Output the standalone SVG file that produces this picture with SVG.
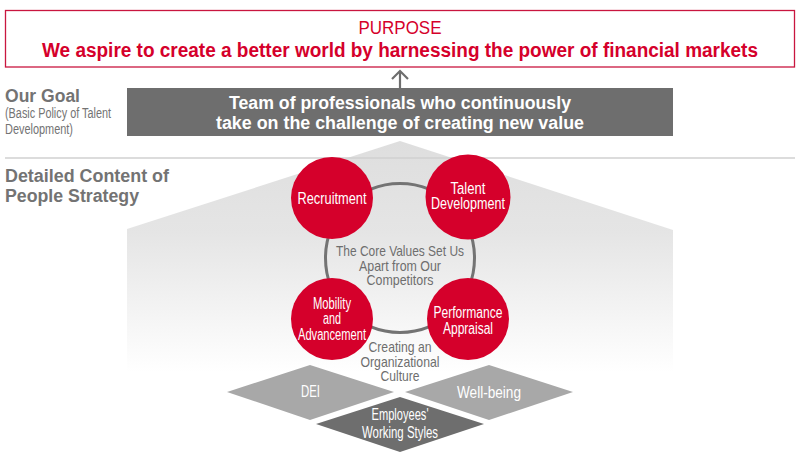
<svg xmlns="http://www.w3.org/2000/svg" width="800" height="455" viewBox="0 0 800 455">
<style>
text{font-family:"Liberation Sans",Arial,sans-serif;text-anchor:middle}
.c{fill:#d5002b}
.w{fill:#fff;font-size:16px}
.g{fill:#6e6e6e;font-size:15px}
.h{fill:#737373;font-size:18px;font-weight:bold;text-anchor:start}
.s{fill:#737373;font-size:14px;text-anchor:start}
.b{fill:#fff;font-size:18px;font-weight:bold}
</style>
<defs><linearGradient id="fade" x1="0" y1="141" x2="0" y2="372" gradientUnits="userSpaceOnUse"><stop offset="0" stop-color="#dedede"/><stop offset="0.4" stop-color="#e5e5e5"/><stop offset="1" stop-color="#fff"/></linearGradient></defs>
<rect width="800" height="455" fill="#fff"/>
<g id="background-shape"><polygon points="400,141 673,230 673,380 127,380 127,229" fill="url(#fade)"/></g>
<line x1="5" y1="158" x2="795" y2="158" stroke="#d0d0d0" stroke-width="1.3"/>
<g id="purpose">
<rect x="5.500" y="10.500" width="789" height="56.500" fill="#fff" stroke="#c9163f" stroke-width="1.3"/>
<text x="400" y="34" font-size="18" fill="#d5002b" textLength="83" lengthAdjust="spacingAndGlyphs">PURPOSE</text>
<text x="400" y="57" font-size="19.500" font-weight="bold" fill="#d5002b" textLength="716" lengthAdjust="spacingAndGlyphs">We aspire to create a better world by harnessing the power of financial markets</text>
</g>
<g id="connectors">
<path d="M400 88V71M392 79L400 71L408 79" fill="none" stroke="#6e6e6e" stroke-width="2.200"/>
<circle cx="400" cy="258" r="74.500" fill="none" stroke="#737373" stroke-width="3"/>
</g>
<g id="goal-label">
<text class="h" x="5" y="102" textLength="75" lengthAdjust="spacingAndGlyphs">Our Goal</text>
<text class="s" x="5" y="118" textLength="106" lengthAdjust="spacingAndGlyphs">(Basic Policy of Talent</text>
<text class="s" x="5" y="134" textLength="68" lengthAdjust="spacingAndGlyphs">Development)</text>
</g>
<g id="goal">
<rect x="127" y="88" width="546" height="48" fill="#6e6e6e"/>
<text class="b" x="400" y="109" textLength="342" lengthAdjust="spacingAndGlyphs">Team of professionals who continuously</text>
<text class="b" x="400" y="129" textLength="368" lengthAdjust="spacingAndGlyphs">take on the challenge of creating new value</text>
</g>
<g id="strategy-label">
<text class="h" x="5" y="182" textLength="164" lengthAdjust="spacingAndGlyphs">Detailed Content of</text>
<text class="h" x="5" y="202" textLength="134" lengthAdjust="spacingAndGlyphs">People Strategy</text>
</g>
<g id="recruitment"><circle class="c" cx="332" cy="198" r="41"/><text class="w" x="332" y="204" textLength="69" lengthAdjust="spacingAndGlyphs">Recruitment</text></g>
<g id="talent-development"><circle class="c" cx="468" cy="197" r="42.500"/><text class="w" x="468" y="194" textLength="35" lengthAdjust="spacingAndGlyphs">Talent</text><text class="w" x="468" y="209" textLength="74" lengthAdjust="spacingAndGlyphs">Development</text></g>
<g id="core-values">
<text class="g" x="400" y="256" textLength="128" lengthAdjust="spacingAndGlyphs">The Core Values Set Us</text>
<text class="g" x="400" y="270.500" textLength="82" lengthAdjust="spacingAndGlyphs">Apart from Our</text>
<text class="g" x="400" y="285" textLength="67" lengthAdjust="spacingAndGlyphs">Competitors</text>
</g>
<g id="mobility"><circle class="c" cx="332" cy="319" r="41"/><text class="w" x="332" y="309" textLength="38" lengthAdjust="spacingAndGlyphs">Mobility</text><text class="w" x="332" y="324" textLength="18" lengthAdjust="spacingAndGlyphs">and</text><text class="w" x="332" y="340" textLength="68" lengthAdjust="spacingAndGlyphs">Advancement</text></g>
<g id="performance"><circle class="c" cx="468" cy="319" r="41"/><text class="w" x="468" y="318" textLength="69" lengthAdjust="spacingAndGlyphs">Performance</text><text class="w" x="468" y="334" textLength="50" lengthAdjust="spacingAndGlyphs">Appraisal</text></g>
<g id="culture">
<text class="g" x="400" y="352" textLength="63" lengthAdjust="spacingAndGlyphs">Creating an</text>
<text class="g" x="400" y="366.500" textLength="79" lengthAdjust="spacingAndGlyphs">Organizational</text>
<text class="g" x="400" y="381" textLength="39" lengthAdjust="spacingAndGlyphs">Culture</text>
</g>
<g id="dei"><polygon points="227,392 310,365 394,392 310,420" fill="#a8a8a8"/><text class="w" x="310.500" y="397" textLength="19" lengthAdjust="spacingAndGlyphs">DEI</text></g>
<g id="well-being"><polygon points="405,392 489,365 573,392 489,420" fill="#a8a8a8"/><text class="w" x="489" y="398" textLength="64" lengthAdjust="spacingAndGlyphs">Well-being</text></g>
<g id="working-styles"><polygon points="316,424 400,397 484,424 400,452" fill="#6e6e6e"/><text class="w" x="400" y="420" textLength="57" lengthAdjust="spacingAndGlyphs">Employees'</text><text class="w" x="400" y="438" textLength="76" lengthAdjust="spacingAndGlyphs">Working Styles</text></g>
</svg>
